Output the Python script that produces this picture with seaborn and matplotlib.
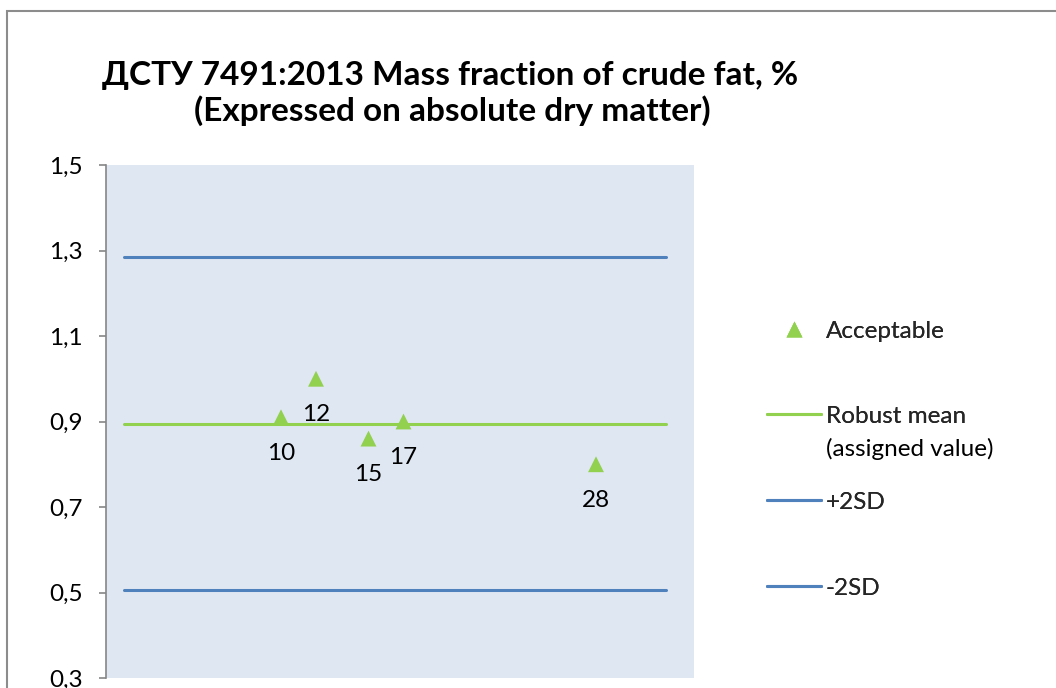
import matplotlib
matplotlib.use("Agg")
import matplotlib.pyplot as plt
from matplotlib.lines import Line2D
from matplotlib.patches import Rectangle
from matplotlib.ticker import FuncFormatter
import numpy as np
import pandas as pd
import seaborn as sns

# Participant results (lab code -> measured value, %)
lab_codes = [10, 12, 15, 17, 28]
results = [0.91, 1.00, 0.86, 0.90, 0.80]

# Reference lines
robust_mean = 0.895
upper_2sd = 1.285
lower_2sd = 0.505
line_span = [1, 32]

y_ticks = [0.3, 0.5, 0.7, 0.9, 1.1, 1.3, 1.5]

title_line1 = "ДСТУ 7491:2013 Mass fraction of crude fat, %"
title_line2 = "(Expressed on absolute dry matter)"

GREEN = "#92d050"
BLUE = "#4f81bd"
PLOT_BG = "#dfe7f2"
AXIS_GREY = "#868686"
TEXT_SIZE = 17.5

sns.set_theme(style="white")
plt.rcParams["font.family"] = ["Lato", "Open Sans", "DejaVu Sans"]

fig = plt.figure(figsize=(10.56, 6.88), dpi=100)
ax = fig.add_axes([106 / 1056, 1 - 678 / 688, 588 / 1056, 513 / 688])
ax.set_facecolor(PLOT_BG)

points = pd.DataFrame({"lab": lab_codes, "value": results})
ref = pd.DataFrame({
    "x": line_span * 3,
    "y": [robust_mean] * 2 + [upper_2sd] * 2 + [lower_2sd] * 2,
    "kind": ["mean"] * 2 + ["+2SD"] * 2 + ["-2SD"] * 2,
})

sns.lineplot(data=ref, x="x", y="y", hue="kind",
             palette={"mean": GREEN, "+2SD": BLUE, "-2SD": BLUE},
             linewidth=2.2, legend=False, ax=ax, zorder=2)
sns.scatterplot(data=points, x="lab", y="value", marker="^", s=130,
                color=GREEN, edgecolor="none", legend=False, ax=ax, zorder=3)

for code, val in zip(lab_codes, results):
    ax.annotate(str(code), (code, val), xytext=(0, -26), textcoords="offset points",
                ha="center", va="center", fontsize=TEXT_SIZE, color="black")

ax.set_xlim(0, 33.6)
ax.set_ylim(0.3, 1.5)
ax.set_yticks(y_ticks)
ax.yaxis.set_major_formatter(FuncFormatter(lambda v, _: f"{v:.1f}".replace(".", ",")))
ax.set_xticks([])
ax.set_xlabel("")
ax.set_ylabel("")
for side in ("top", "right", "bottom"):
    ax.spines[side].set_visible(False)
ax.spines["left"].set_color(AXIS_GREY)
ax.spines["left"].set_linewidth(1.2)
ax.tick_params(axis="y", which="major", left=True, direction="out", length=5,
               width=1.2, color=AXIS_GREY, pad=12, labelsize=TEXT_SIZE,
               labelcolor="black")

# Outer chart frame (open to the right and bottom)
fig.add_artist(Rectangle((7 / 1056, -0.2), 1.2, 1.2 - 11 / 688,
                         transform=fig.transFigure, fill=False,
                         edgecolor="#8c8c8c", linewidth=1.5, zorder=0))

# Title
fig.text(450 / 1056, 1 - 75 / 688, title_line1, ha="center", va="center",
         fontsize=24, fontweight="bold", color="black")
fig.text(452 / 1056, 1 - 111 / 688, title_line2, ha="center", va="center",
         fontsize=24, fontweight="bold", color="black")

# Legend entries
entries = [
    (Line2D([], [], marker="^", linestyle="none", markersize=11, color=GREEN,
            markeredgecolor="none"), "Acceptable", 331),
    (Line2D([], [], color=GREEN, linewidth=2.2), "Robust mean", 416),
    (Line2D([], [], color=BLUE, linewidth=2.2), "+2SD", 502),
    (Line2D([], [], color=BLUE, linewidth=2.2), "-2SD", 588),
]
for handle, label, yc in entries:
    leg = fig.legend([handle], [label], loc="center left",
                     bbox_to_anchor=(767 / 1056, 1 - yc / 688),
                     frameon=False, fontsize=TEXT_SIZE, handlelength=54 / (TEXT_SIZE * 100 / 72),
                     handletextpad=0.2, borderpad=0, borderaxespad=0)
    fig.add_artist(leg)
fig.text(826 / 1056, 1 - 449 / 688, "(assigned value)", ha="left", va="center",
         fontsize=TEXT_SIZE, color="black")

fig.savefig("out.png", dpi=100)
